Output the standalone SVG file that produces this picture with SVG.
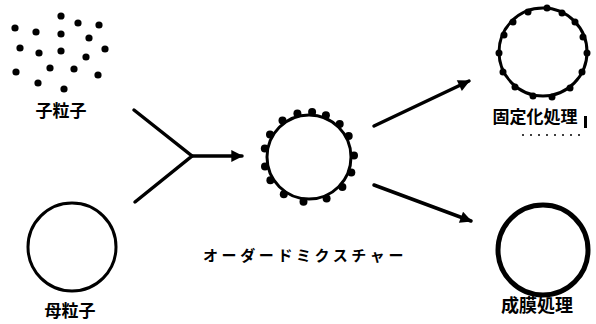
<svg xmlns="http://www.w3.org/2000/svg" width="596" height="324" viewBox="0 0 596 324">
<style>
  .lbl { font-family: "Noto Sans CJK JP", "Noto Sans CJK SC", sans-serif; font-weight: 700; fill: #000; }
  .ring { fill: #fff; stroke: #000; stroke-width: 3; }
  .dot { fill: #000; }
  .conn { stroke: #000; stroke-width: 3.5; fill: none; stroke-linecap: round; }
</style>
<defs>
  <marker id="ah" viewBox="0 0 10 10" refX="9" refY="5" markerWidth="4" markerHeight="3.4" orient="auto" markerUnits="strokeWidth">
    <path d="M0,0 L10,5 L0,10 Z" fill="#000"/>
  </marker>
</defs>
<rect width="596" height="324" fill="#fff"/>

<g id="child-particles">
  <g class="dot">
    <circle cx="61" cy="16" r="3.6"/>
    <circle cx="78" cy="23" r="3.6"/>
    <circle cx="99" cy="25" r="3.6"/>
    <circle cx="15" cy="28" r="3.6"/>
    <circle cx="36" cy="32" r="3.6"/>
    <circle cx="61" cy="34" r="3.6"/>
    <circle cx="89" cy="38" r="3.6"/>
    <circle cx="20" cy="48" r="3.6"/>
    <circle cx="39" cy="53" r="3.6"/>
    <circle cx="61" cy="51" r="3.6"/>
    <circle cx="86" cy="57" r="3.6"/>
    <circle cx="105" cy="49" r="3.6"/>
    <circle cx="16" cy="72" r="3.6"/>
    <circle cx="50" cy="68" r="3.6"/>
    <circle cx="74" cy="69" r="3.6"/>
    <circle cx="98" cy="75" r="3.6"/>
    <circle cx="38" cy="83" r="3.6"/>
    <circle cx="64" cy="89" r="3.6"/>
  </g>
  <text class="lbl" x="61" y="117" font-size="17" text-anchor="middle">子粒子</text>
</g>

<g id="mother-particle">
  <circle class="ring" cx="72" cy="247" r="44" stroke-width="2.5"/>
  <text class="lbl" x="70" y="317" font-size="17" text-anchor="middle">母粒子</text>
</g>

<g id="ordered-mixture">
  <circle class="ring" cx="309" cy="157" r="42"/>
  <g class="dot">
    <circle cx="297.4" cy="113.5" r="4"/>
    <circle cx="312.1" cy="112.1" r="4"/>
    <circle cx="325.9" cy="115.3" r="4"/>
    <circle cx="339.7" cy="124.1" r="4"/>
    <circle cx="348.7" cy="135.9" r="4"/>
    <circle cx="354.0" cy="155.4" r="4"/>
    <circle cx="351.3" cy="172.4" r="4"/>
    <circle cx="342.4" cy="187.1" r="4"/>
    <circle cx="326.6" cy="198.4" r="4"/>
    <circle cx="303.5" cy="201.7" r="4"/>
    <circle cx="283.8" cy="194.3" r="4"/>
    <circle cx="270.4" cy="180.2" r="4"/>
    <circle cx="265.0" cy="166.4" r="4"/>
    <circle cx="264.8" cy="148.4" r="4"/>
    <circle cx="270.0" cy="134.5" r="4"/>
    <circle cx="282.5" cy="120.6" r="4"/>
  </g>
  <text class="lbl" x="203" y="261" font-size="15" letter-spacing="3.6">オーダードミクスチャー</text>
</g>

<g id="fixation">
  <circle class="ring" cx="543" cy="52" r="44"/>
  <g class="dot">
    <circle cx="547" cy="8" r="3.5"/>
    <circle cx="562" cy="13" r="3.5"/>
    <circle cx="575" cy="22" r="3.5"/>
    <circle cx="583" cy="37" r="3.5"/>
    <circle cx="587" cy="53" r="3.5"/>
    <circle cx="582" cy="72" r="3.5"/>
    <circle cx="570" cy="88" r="3.5"/>
    <circle cx="552" cy="97" r="3.5"/>
    <circle cx="533" cy="96" r="3.5"/>
    <circle cx="515" cy="87" r="3.5"/>
    <circle cx="503" cy="72" r="3.5"/>
    <circle cx="499" cy="53" r="3.5"/>
    <circle cx="504" cy="35" r="3.5"/>
    <circle cx="513" cy="22" r="3.5"/>
    <circle cx="528" cy="12" r="3.5"/>
  </g>
  <text class="lbl" x="535" y="123" font-size="17" text-anchor="middle">固定化処理</text>
  <rect x="584" y="116" width="3" height="12" fill="#000"/>
  <line x1="522" y1="135" x2="581" y2="135" stroke="#000" stroke-width="1.5" stroke-dasharray="2 6"/>
</g>

<g id="film-forming">
  <circle cx="543" cy="250" r="45" fill="#fff" stroke="#000" stroke-width="5"/>
  <text class="lbl" x="537" y="312" font-size="18" text-anchor="middle">成膜処理</text>
</g>

<g id="connectors">
  <polyline class="conn" points="134,110 192,156 135,202"/>
  <line class="conn" x1="192" y1="156" x2="242" y2="156" marker-end="url(#ah)"/>
  <line class="conn" x1="374" y1="126" x2="469" y2="81" marker-end="url(#ah)"/>
  <line class="conn" x1="374" y1="185" x2="471" y2="221" marker-end="url(#ah)"/>
</g>
</svg>
